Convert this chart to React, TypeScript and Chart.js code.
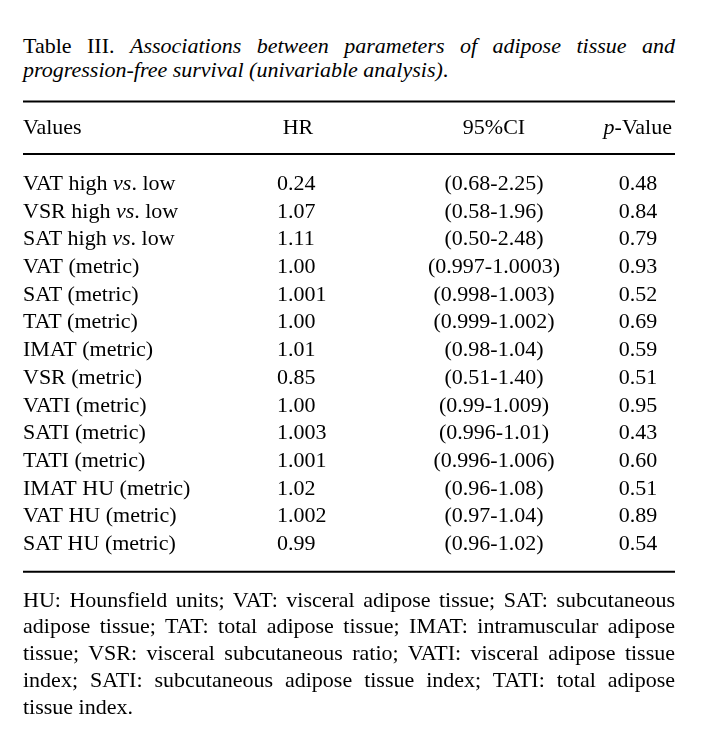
import React, { useEffect, useRef } from "react";
import { Chart, registerables } from "chart.js";

Chart.register(...registerables);

// ---------- data ----------
const rowLabels = [
  "VAT high vs. low",
  "VSR high vs. low",
  "SAT high vs. low",
  "VAT (metric)",
  "SAT (metric)",
  "TAT (metric)",
  "IMAT (metric)",
  "VSR (metric)",
  "VATI (metric)",
  "SATI (metric)",
  "TATI (metric)",
  "IMAT HU (metric)",
  "VAT HU (metric)",
  "SAT HU (metric)",
];
const hrValues = ["0.24", "1.07", "1.11", "1.00", "1.001", "1.00", "1.01", "0.85", "1.00", "1.003", "1.001", "1.02", "1.002", "0.99"];
const ciValues = [
  "(0.68-2.25)",
  "(0.58-1.96)",
  "(0.50-2.48)",
  "(0.997-1.0003)",
  "(0.998-1.003)",
  "(0.999-1.002)",
  "(0.98-1.04)",
  "(0.51-1.40)",
  "(0.99-1.009)",
  "(0.996-1.01)",
  "(0.996-1.006)",
  "(0.96-1.08)",
  "(0.97-1.04)",
  "(0.96-1.02)",
];
const pValues = ["0.48", "0.84", "0.79", "0.93", "0.52", "0.69", "0.59", "0.51", "0.95", "0.43", "0.60", "0.51", "0.89", "0.54"];
const headerLabels = ["Values", "HR", "95%CI", "p-Value"];

const captionLead = "Table III.";
const captionLines = [
  "Associations between parameters of adipose tissue and",
  "progression-free survival (univariable analysis).",
];
const footnoteLines = [
  "HU: Hounsfield units; VAT: visceral adipose tissue; SAT: subcutaneous",
  "adipose tissue; TAT: total adipose tissue; IMAT: intramuscular adipose",
  "tissue; VSR: visceral subcutaneous ratio; VATI: visceral adipose tissue",
  "index; SATI: subcutaneous adipose tissue index; TATI: total adipose",
  "tissue index.",
];

// ---------- layout / style ----------
const FONT_FAMILY = '"Liberation Serif", "Times New Roman", serif';
const FONT_SIZE = 22;
const INK = "#000";
const ROW_PX = 27.7;
const CANVAS_H = 499;
const Y_MIN = -3.5;
const HEADER_ROW = -2.02;
const RULE_ROWS = [-3.19, -1.3, 13.78];
const TABLE_LEFT = 23;
const TABLE_RIGHT = 675;
const COL_X = { label: 23, hr: 277, ci: 494, p: 638 };
const HEADER_X = [23, 298, 494, 672];
const HEADER_ALIGN = ["left", "center", "center", "right"];

type Seg = { t: string; italic: boolean };

function richSegments(text: string): Seg[] {
  const segs: Seg[] = [];
  const re = /(\bvs(?=\.)|^p(?=-))/g;
  let last = 0;
  let m: RegExpExecArray | null;
  while ((m = re.exec(text))) {
    if (m.index > last) segs.push({ t: text.slice(last, m.index), italic: false });
    segs.push({ t: m[0], italic: true });
    last = m.index + m[0].length;
  }
  if (last < text.length) segs.push({ t: text.slice(last), italic: false });
  return segs;
}

function fontFor(italic: boolean) {
  return `${italic ? "italic " : ""}${FONT_SIZE}px ${FONT_FAMILY}`;
}

function drawRich(ctx: CanvasRenderingContext2D, text: string, x: number, y: number, align: string) {
  const segs = richSegments(text);
  let total = 0;
  const widths = segs.map((s) => {
    ctx.font = fontFor(s.italic);
    const w = ctx.measureText(s.t).width;
    total += w;
    return w;
  });
  let cx = x;
  if (align === "center") cx = x - total / 2;
  else if (align === "right") cx = x - total;
  ctx.textAlign = "left";
  ctx.textBaseline = "alphabetic";
  ctx.fillStyle = INK;
  segs.forEach((s, i) => {
    ctx.font = fontFor(s.italic);
    ctx.fillText(s.t, cx, y);
    cx += widths[i];
  });
}

const tableTextPlugin = {
  id: "tableText",
  afterDatasetsDraw(chart: any) {
    const ctx = chart.ctx as CanvasRenderingContext2D;
    ctx.save();
    chart.data.datasets.forEach((ds: any, di: number) => {
      if (!ds.cellText) return;
      const meta = chart.getDatasetMeta(di);
      meta.data.forEach((el: any, i: number) => {
        const align = Array.isArray(ds.cellAlign) ? ds.cellAlign[i] : ds.cellAlign;
        drawRich(ctx, ds.cellText[i], el.x, el.y, align);
      });
    });
    ctx.restore();
  },
};

function columnDataset(label: string, x: number, texts: string[], align: string) {
  return {
    type: "scatter",
    label,
    data: texts.map((_, i) => ({ x, y: i })),
    pointRadius: 0,
    pointHoverRadius: 0,
    showLine: false,
    cellText: texts,
    cellAlign: align,
  };
}

function ruleDataset(row: number, idx: number) {
  return {
    type: "line",
    label: `rule${idx}`,
    data: [
      { x: TABLE_LEFT, y: row },
      { x: TABLE_RIGHT, y: row },
    ],
    borderColor: INK,
    borderWidth: 2,
    pointRadius: 0,
    pointHoverRadius: 0,
    fill: false,
  };
}

function TableChart() {
  const ref = useRef<HTMLCanvasElement | null>(null);
  useEffect(() => {
    if (!ref.current) return;
    const datasets: any[] = [
      ...RULE_ROWS.map((r, i) => ruleDataset(r, i)),
      {
        type: "scatter",
        label: "header",
        data: headerLabels.map((_, i) => ({ x: HEADER_X[i], y: HEADER_ROW })),
        pointRadius: 0,
        pointHoverRadius: 0,
        cellText: headerLabels,
        cellAlign: HEADER_ALIGN,
      },
      columnDataset("Values", COL_X.label, rowLabels, "left"),
      columnDataset("HR", COL_X.hr, hrValues, "left"),
      columnDataset("95%CI", COL_X.ci, ciValues, "center"),
      columnDataset("p-Value", COL_X.p, pValues, "center"),
    ];
    const chart = new Chart(ref.current, {
      type: "scatter",
      data: { datasets },
      options: {
        responsive: true,
        maintainAspectRatio: false,
        animation: false,
        events: [],
        layout: { padding: 0 },
        plugins: {
          legend: { display: false },
          tooltip: { enabled: false },
          title: { display: false },
        },
        scales: {
          x: { type: "linear", min: 8, max: 696, display: false },
          y: {
            type: "linear",
            min: Y_MIN,
            max: Y_MIN + CANVAS_H / ROW_PX,
            reverse: true,
            display: false,
          },
        },
      } as any,
      plugins: [tableTextPlugin as any],
    } as any);
    return () => chart.destroy();
  }, []);
  return (
    <div style={{ position: "absolute", left: 0, top: 85, width: 688, height: CANVAS_H }}>
      <canvas ref={ref} />
    </div>
  );
}

const textBase: React.CSSProperties = {
  fontFamily: FONT_FAMILY,
  fontSize: FONT_SIZE,
  color: INK,
  whiteSpace: "nowrap",
};

export default function App() {
  return (
    <div style={{ position: "relative", width: 688, height: 736 }}>
      <div style={{ position: "absolute", left: 15, top: 25.9, width: 652, lineHeight: "24px", ...textBase }}>
        <div style={{ textAlign: "justify", textAlignLast: "justify" } as any}>
          {captionLead} <i>{captionLines[0]}</i>
        </div>
        <div style={{ textAlign: "left" }}>
          <i>{captionLines[1].slice(0, -1)}</i>.
        </div>
      </div>
      <TableChart />
      <div style={{ position: "absolute", left: 15, top: 578.7, width: 652, lineHeight: "26.75px", ...textBase }}>
        {footnoteLines.map((line, i) => (
          <div
            key={i}
            style={
              {
                textAlign: i === footnoteLines.length - 1 ? "left" : "justify",
                textAlignLast: i === footnoteLines.length - 1 ? "left" : "justify",
              } as any
            }
          >
            {line}
          </div>
        ))}
      </div>
    </div>
  );
}
